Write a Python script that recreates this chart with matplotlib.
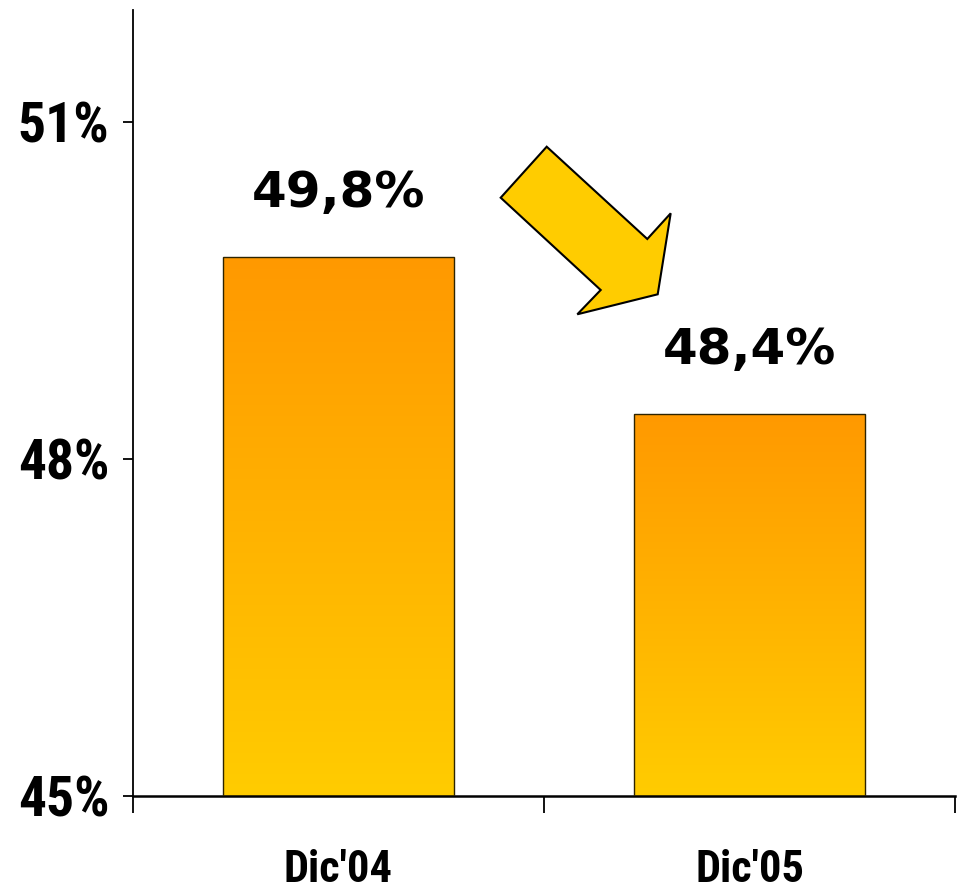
import numpy as np
import matplotlib
matplotlib.use("Agg")
import matplotlib.pyplot as plt
from matplotlib import font_manager
from matplotlib.patches import Polygon
from matplotlib.colors import LinearSegmentedColormap

# Data
categories = ["Dic'04", "Dic'05"]
values = [49.8, 48.4]
value_labels = ["49,8%", "48,4%"]
y_ticks = [45, 48, 51]
y_tick_labels = ["45%", "48%", "51%"]

# Pick a narrow bold face for axis labels if one is available
available = {f.name for f in font_manager.fontManager.ttflist}
narrow = "DejaVu Sans"
for cand in ["Liberation Sans Narrow", "DejaVu Sans Condensed", "Roboto Condensed",
             "Open Sans Condensed", "Arial Narrow"]:
    if cand in available:
        narrow = cand
        break
narrow_stretch = "normal" if narrow != "DejaVu Sans" else "condensed"

W, H = 958, 896
fig = plt.figure(figsize=(W / 100, H / 100), dpi=100)
ax = fig.add_axes([133 / W, (H - 796) / H, 822 / W, 786 / H])

bar_w = 0.56
x = np.arange(len(categories))
bars = ax.bar(x, values, width=bar_w, bottom=0, facecolor="none",
              edgecolor="#2e2400", linewidth=1.0, zorder=3)

# Vertical orange-to-yellow gradient inside each bar
grad_cmap = LinearSegmentedColormap.from_list("og", ["#FFCC00", "#FF9900"])
grad = np.linspace(0, 1, 256).reshape(-1, 1)
for rect in bars:
    x0 = rect.get_x()
    x1 = x0 + rect.get_width()
    top = rect.get_height()
    ax.imshow(grad, cmap=grad_cmap, origin="lower", aspect="auto",
              extent=[x0, x1, 45, top], zorder=2, interpolation="bilinear")
ax.set_xlim(-0.5, 1.5)
ax.set_ylim(45, 52)

# Value labels above bars
for rect, lab in zip(bars, value_labels):
    ax.annotate(lab, (rect.get_x() + rect.get_width() / 2, rect.get_height()),
                xytext=(0, 46), textcoords="offset points",
                ha="center", va="center", fontsize=36, fontweight="bold",
                family="DejaVu Sans", color="black")

# Axes styling
for s in ["top", "right"]:
    ax.spines[s].set_visible(False)
ax.spines["left"].set_linewidth(1.3)
ax.spines["bottom"].set_linewidth(1.8)

ax.set_yticks(y_ticks)
ax.set_yticklabels(y_tick_labels, fontsize=40, fontweight="bold",
                   family=narrow, fontstretch=narrow_stretch)
ax.tick_params(axis="y", direction="out", length=7, width=1.3, pad=10)

ax.set_xticks(x)
ax.set_xticklabels(categories, fontsize=32, fontweight="bold",
                   family=narrow, fontstretch=narrow_stretch)
ax.set_xticks([-0.5, 0.5, 1.5], minor=True)
ax.tick_params(axis="x", which="major", length=0, pad=38)
ax.tick_params(axis="x", which="minor", direction="out", length=12, width=1.3)

# Block arrow pointing down-right between the two bars
arrow_px = [(546.7, 146.7), (500.7, 197.7), (600.7, 290.0), (577.3, 314.3),
            (657.7, 294.3), (670.7, 213.3), (647.3, 239.0)]
arrow_fig = [(px / W, (H - py) / H) for px, py in arrow_px]
fig.patches.append(Polygon(arrow_fig, closed=True, transform=fig.transFigure,
                           facecolor="#FFCC00", edgecolor="black", linewidth=1.5))

fig.savefig("out.png", dpi=100)
